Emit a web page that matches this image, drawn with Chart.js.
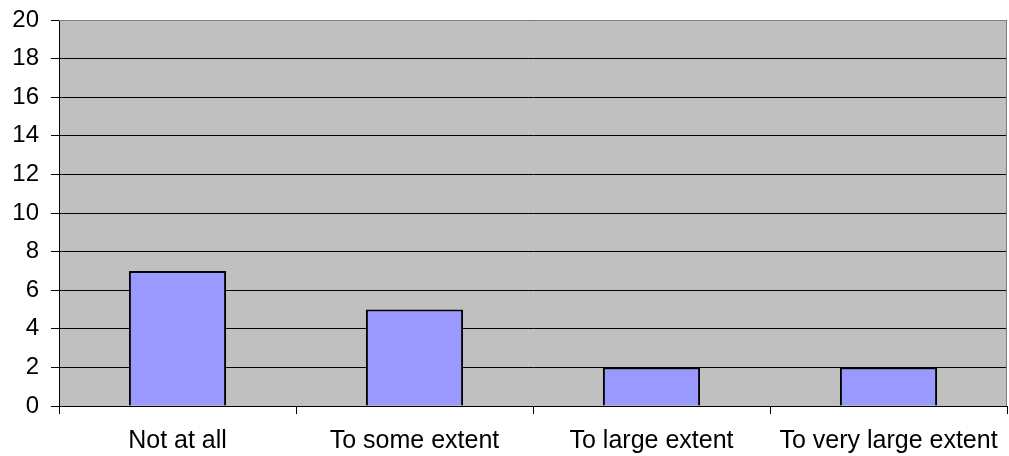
<!DOCTYPE html>
<html>
<head>
<meta charset="utf-8">
<script src="https://cdn.jsdelivr.net/npm/chart.js@4/dist/chart.umd.min.js"></script>
<style>
  html, body { margin: 0; padding: 0; background: #ffffff; }
  #wrap { width: 1009px; height: 456px; position: relative; }
</style>
</head>
<body>
<div id="wrap"><canvas id="c"></canvas></div>
<script>
const categories = ['Not at all', 'To some extent', 'To large extent', 'To very large extent'];
const counts = [7, 5, 2, 2];
const yTicks = [0, 2, 4, 6, 8, 10, 12, 14, 16, 18, 20];

// Grey plot background plus the lighter top/right frame
const plotFrame = {
  id: 'plotFrame',
  beforeDraw(chart) {
    const { ctx, chartArea: a } = chart;
    ctx.save();
    ctx.fillStyle = '#C0C0C0';
    ctx.fillRect(a.left, a.top, a.right - a.left, a.bottom - a.top);
    ctx.restore();
  },
  afterDatasetsDraw(chart) {
    const { ctx, chartArea: a } = chart;
    ctx.save();
    ctx.strokeStyle = '#808080';
    ctx.lineWidth = 1;
    ctx.beginPath();
    ctx.moveTo(a.left, a.top + 0.5);
    ctx.lineTo(a.right - 0.5, a.top + 0.5);
    ctx.lineTo(a.right - 0.5, a.bottom);
    ctx.stroke();
    ctx.restore();
  }
};

const family = 'Liberation Sans, Arial, sans-serif';

new Chart(document.getElementById('c'), {
  type: 'bar',
  data: {
    labels: categories,
    datasets: [{
      data: counts,
      backgroundColor: '#9999FF',
      borderColor: '#000000',
      borderWidth: 2,
      categoryPercentage: 0.41,
      barPercentage: 1.0
    }]
  },
  options: {
    responsive: true,
    maintainAspectRatio: false,
    animation: false,
    layout: { padding: { top: 20, right: 2, left: 0, bottom: 0 } },
    plugins: { legend: { display: false }, tooltip: { enabled: false } },
    scales: {
      x: {
        offset: true,
        grid: {
          offset: true,
          drawOnChartArea: false,
          color: '#000000',
          tickLength: 8
        },
        border: { color: '#000000', width: 1 },
        ticks: {
          color: '#000000',
          padding: 12,
          maxRotation: 0,
          autoSkip: false,
          font: { family, size: 25 }
        },
        afterFit(scale) {
          scale.height = 50;
          scale.paddingLeft = 0;
          scale.paddingRight = 0;
        }
      },
      y: {
        min: 0,
        max: 20,
        afterBuildTicks(scale) { scale.ticks = yTicks.map(v => ({ value: v })); },
        grid: {
          color: '#000000',
          tickLength: 8
        },
        border: { color: '#000000', width: 1 },
        ticks: {
          color: '#000000',
          padding: 12,
          font: { family, size: 24 }
        },
        afterFit(scale) {
          scale.width = 59;
          scale.paddingTop = 0;
          scale.paddingBottom = 0;
        }
      }
    }
  },
  plugins: [plotFrame]
});
</script>
</body>
</html>
